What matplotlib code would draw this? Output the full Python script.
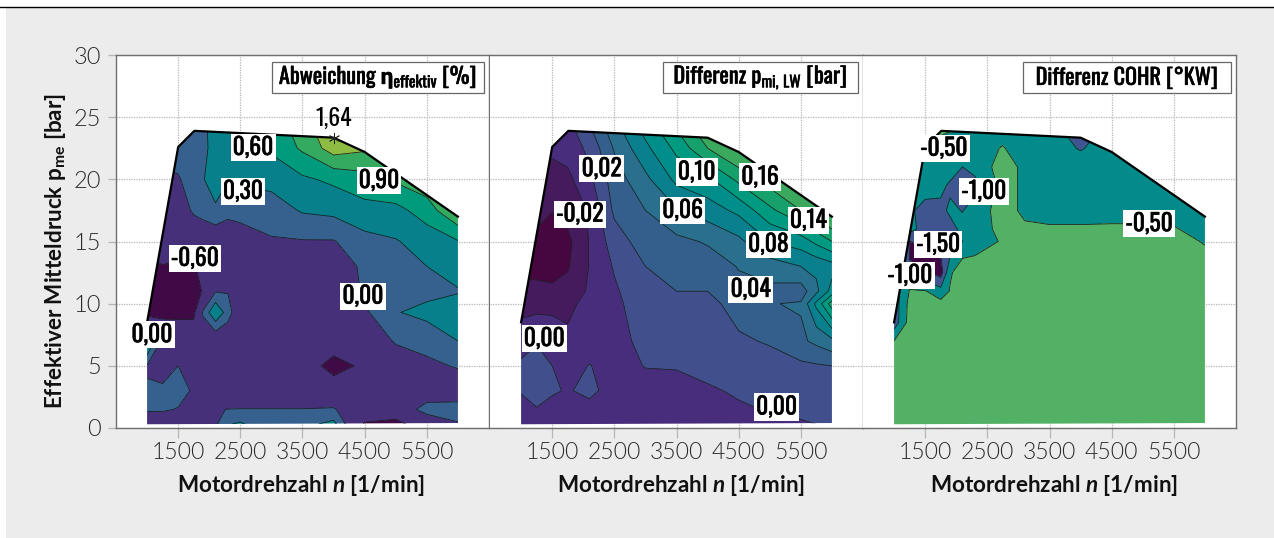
import matplotlib
matplotlib.use('Agg')
import matplotlib.pyplot as plt
import matplotlib.patheffects as pe
import numpy as np
from matplotlib.patches import Polygon, Rectangle

W, H = 1274, 538
narrow = ['Oswald', 'Roboto', 'DejaVu Sans']
plain = ['Lato', 'DejaVu Sans']

plt.rcParams['mathtext.fontset'] = 'custom'
plt.rcParams['mathtext.rm'] = 'Oswald:medium'
plt.rcParams['mathtext.it'] = 'Lato:italic:bold'
plt.rcParams['mathtext.bf'] = 'Lato:bold'
plt.rcParams['mathtext.cal'] = 'Roboto:bold'
plt.rcParams['mathtext.fallback'] = 'stixsans'

# Kennfeld-Grenze
edge_n = [1000, 1000, 1500, 1760, 4000, 4500, 6000, 6000]
edge_p = [0.3, 8.5, 22.6, 23.9, 23.35, 22.2, 17.0, 0.4]

# Panel 1: Abweichung Wirkungsgrad
n1 = [1000, 1250, 1500, 1750, 1900, 2100, 2300, 2500, 3000, 3500, 4000, 4500, 5000, 5500, 6000]
p1 = [0.3, 1.5, 3, 5, 7, 9.3, 11, 13, 15, 17.5, 20, 22.5, 24.5]
z1 = [
    [-.30, -.30, -.30, -.30, -.30, -.05, .28, .35, .05, .20, .40, -.65, -.75, -.30, -.02],
    [.05, .05, -.02, -.25, -.25, -.02, .005, .01, .01, .01, .03, -.30, -.30, .15, .10],
    [.02, .12, .15, -.05, -.28, -.30, -.30, -.30, -.30, -.30, -.30, -.30, -.30, -.25, -.15],
    [-.02, -.30, .00, -.25, -.30, -.30, -.30, -.30, -.30, -.30, -.80, -.50, -.25, -.05, .02],
    [.70, -.10, -.30, -.30, -.30, -.30, -.30, -.30, -.30, -.30, -.30, -.30, .04, .08, .30],
    [-.80, -.75, -.70, -.70, .05, .58, .15, -.30, -.30, -.30, -.30, -.05, .28, .40, .45],
    [-.80, -.80, -.85, -.85, -.55, -.02, -.02, -.30, -.30, -.30, -.30, .05, .12, .20, .28],
    [-.80, -.62, -.70, -.65, -.45, -.25, -.25, -.25, -.30, -.30, -.30, .10, .15, .30, .42],
    [-.30, -.30, -.30, -.30, -.28, -.25, -.20, -.15, -.03, -.02, -.02, .20, .28, .42, .58],
    [-.30, -.30, -.20, .05, .12, .22, .08, .10, .15, .33, .38, .50, .50, .75, 1.20],
    [-.10, -.10, -.03, .15, .27, .55, .32, .35, .40, .55, .66, .78, .95, 1.10, 1.40],
    [.15, .15, .15, .20, .20, .45, .50, .55, .65, .95, 1.35, 1.25, 1.30, 1.30, 1.40],
    [.15, .15, .15, .20, .25, .40, .60, .70, .80, 1.00, 1.70, 1.60, 1.50, 1.40, 1.40],
]
levels1 = [-0.9, -0.6, 0, 0.3, 0.6, 0.9, 1.2, 1.8]
colors1 = ['#3f0a45', '#46307a', '#36608d', '#07808c', '#009a7c', '#33aa5f', '#8cbc42']

# Panel 2: Differenz Ladungswechsel
n2 = [1000, 1250, 1500, 1750, 2100, 2500, 3000, 3500, 4000, 4500, 5000, 5500, 5750, 6000]
p2 = [0.3, 1.5, 3, 5, 7, 10, 11, 13, 15, 17.5, 20, 22.5, 24.5]
z2 = [
    [-.010, -.010, -.010, -.010, -.010, -.010, -.010, -.010, -.008, -.008, -.005, -.002, .000, .001],
    [-.010, -.001, -.008, -.010, -.008, -.010, -.010, -.008, -.005, -.002, .001, .004, .005, .006],
    [.002, .008, .003, -.002, .006, -.010, -.010, -.005, -.002, .002, .008, .010, .011, .012],
    [.002, .010, .000, -.010, .001, -.010, .001, .001, .005, .010, .012, .016, .018, .020],
    [-.005, -.002, -.005, -.015, -.012, -.010, .008, .008, .010, .017, .022, .036, .045, .055],
    [-.030, -.027, -.027, -.026, -.012, -.005, .012, .013, .014, .028, .039, .042, .085, .130],
    [-.035, -.035, -.035, -.033, -.017, -.003, .015, .020, .020, .035, .035, .030, .055, .088],
    [-.045, -.046, -.050, -.042, -.019, .002, .020, .028, .030, .041, .050, .060, .065, .072],
    [-.045, -.048, -.055, -.045, -.019, .010, .030, .035, .042, .055, .080, .090, .105, .120],
    [-.030, -.030, -.039, -.032, -.018, .024, .040, .058, .070, .085, .115, .140, .155, .170],
    [-.030, -.025, -.030, -.025, -.005, .030, .055, .085, .095, .125, .150, .170, .180, .180],
    [-.020, -.015, -.015, -.012, .005, .042, .075, .105, .140, .165, .180, .180, .180, .180],
    [-.010, -.010, -.010, -.005, .020, .055, .090, .125, .160, .180, .180, .180, .180, .180],
]
levels2 = [-0.06, -0.04, -0.02, 0, 0.02, 0.04, 0.06, 0.08, 0.10, 0.12, 0.14, 0.16, 0.18]
colors2 = ['#46063f', '#451b5e', '#472d7b', '#414f8c', '#345f8d', '#2a708e', '#0a7f8e',
           '#008e8a', '#009a80', '#15a06c', '#3aa85d', '#60b352']

# Panel 3: Differenz COHR
n3 = [1000, 1250, 1500, 1750, 1900, 2100, 2300, 2750, 3100, 3500, 4000, 4500, 5000, 5500, 6000]
p3 = [0.3, 5, 7, 8.5, 10, 11, 12.5, 13.5, 15, 16, 17.5, 19.5, 21, 22.5, 24.5]
z3 = [
    [-.25, -.25, -.25, -.25, -.25, -.25, -.25, -.25, -.25, -.25, -.25, -.25, -.25, -.25, -.25],
    [-.25, -.25, -.25, -.25, -.25, -.25, -.25, -.25, -.25, -.25, -.25, -.25, -.25, -.25, -.25],
    [-.50, -.25, -.25, -.25, -.25, -.25, -.25, -.25, -.25, -.25, -.25, -.25, -.25, -.25, -.25],
    [-1.3, -.30, -.25, -.25, -.25, -.25, -.25, -.25, -.25, -.25, -.25, -.25, -.25, -.25, -.25],
    [-1.3, -.35, -.30, -.35, -.28, -.25, -.25, -.25, -.25, -.25, -.25, -.25, -.25, -.25, -.25],
    [-1.3, -.47, -.47, -.80, -.47, -.27, -.25, -.25, -.25, -.25, -.25, -.25, -.25, -.25, -.25],
    [-1.3, -.80, -1.4, -1.75, -.55, -.30, -.25, -.25, -.25, -.25, -.25, -.25, -.25, -.25, -.25],
    [-1.0, -1.5, -1.7, -1.55, -.95, -.45, -.42, -.30, -.25, -.25, -.25, -.25, -.25, -.25, -.30],
    [-1.0, -1.52, -1.3, -1.25, -1.25, -1.0, -.75, -.45, -.25, -.25, -.25, -.25, -.25, -.25, -.55],
    [-.80, -.80, -1.25, -1.25, -1.2, -.85, -.75, -.35, -.42, -.42, -.42, -.40, -.40, -.45, -.75],
    [-.80, -.90, -1.2, -1.15, -.90, -1.02, -.75, -.30, -.60, -.75, -.75, -.75, -.75, -.75, -.75],
    [-.80, -.80, -.75, -.85, -1.1, -1.6, -1.2, -.30, -.60, -.75, -.75, -.75, -.75, -.75, -.75],
    [-.80, -.75, -.75, -.70, -.70, -1.0, -.80, -.30, -.60, -.75, -.75, -.75, -.75, -.75, -.75],
    [-.75, -.75, -.75, -.70, -.70, -.75, -.70, -.47, -.75, -.75, -1.04, -.75, -.75, -.75, -.75],
    [-.75, -.60, -.45, -.30, -.40, -.60, -.75, -.75, -.75, -.75, -1.7, -.75, -.75, -.75, -.75],
]
levels3 = [-2.0, -1.5, -1.0, -0.5, 0.0]
colors3 = ['#3f0845', '#3f5590', '#038a8a', '#52b165']

# Beschriftungen im Feld
labels1 = [('0,60', 2704, 22.56), ('0,30', 2543, 19.03), ('0,90', 4730, 19.9),
           ('-0,60', 1771, 13.64), ('0,00', 4473, 10.6), ('0,00', 1079, 7.5)]
labels2 = [('0,02', 2297, 20.85), ('-0,02', 1948, 17.2), ('0,10', 3824, 20.58),
           ('0,06', 3599, 17.5), ('0,16', 4843, 20.18), ('0,14', 5620, 16.7),
           ('0,08', 4977, 14.77), ('0,04', 4693, 11.15), ('0,00', 1373, 7.19),
           ('0,00', 5111, 1.69)]
labels3 = [('-0,50', 1803, 22.5), ('-1,00', 2446, 19.03), ('-1,50', 1711, 14.77),
           ('-1,00', 1256, 12.27), ('-0,50', 5105, 16.43)]

titles = [r'Abweichung $\mathcal{η}_{\mathregular{effektiv}}$ [%]',
          r'Differenz $\mathregular{p_{mi,\,LW}}$ [bar]',
          'Differenz COHR [°KW]']
title_boxes = [(272, 62, 212, 31), (663, 62, 195, 31), (1023, 62, 208, 31)]
lefts = [116, 490, 863]
xlabel_x = [0.495, 0.512, 0.511]
fat = [pe.withStroke(linewidth=0.4, foreground='black')]

fig = plt.figure(figsize=(W / 100, H / 100), dpi=100, facecolor='white')

# grauer Hintergrund und Linie oben
fig.add_artist(Rectangle((6 / W, 0), 1 - 6 / W, 1 - 7 / H, transform=fig.transFigure,
                         facecolor='#ececec', edgecolor='none', zorder=-5))
fig.add_artist(plt.Line2D([0, 1], [1 - 6.5 / H] * 2, transform=fig.transFigure,
                          color='black', lw=1.0, zorder=-4))

panels = [(n1, p1, z1, levels1, colors1, labels1),
          (n2, p2, z2, levels2, colors2, labels2),
          (n3, p3, z3, levels3, colors3, labels3)]

for i, (n, p, z, lev, cols, labs) in enumerate(panels):
    ax = fig.add_axes([lefts[i] / W, 1 - 428 / H, 373 / W, 373 / H])
    ax.set_xlim(500, 6500)
    ax.set_ylim(0, 30)
    ax.set_facecolor('white')
    ax.grid(True, color='#b5b5b5', linestyle=(0, (1, 1)), linewidth=0.9)
    ax.set_axisbelow(True)

    outline = Polygon(list(zip(edge_n, edge_p)), closed=True, transform=ax.transData,
                      facecolor='none', edgecolor='none')
    ax.add_patch(outline)
    cf = ax.contourf(n, p, np.array(z), levels=lev, colors=cols, zorder=2)
    cl = ax.contour(n, p, np.array(z), levels=lev[1:-1], colors='#1a1a1a', linewidths=0.55,
                    linestyles='solid', zorder=3)
    cf.set_clip_path(outline)
    cl.set_clip_path(outline)
    ax.plot(edge_n[1:7], edge_p[1:7], color='black', lw=1.6, zorder=4, solid_joinstyle='round')

    for txt, x, y in labs:
        ax.text(x, y, txt, ha='center', va='center', family=narrow, fontsize=17, color='black',
                zorder=6, path_effects=fat,
                bbox=dict(facecolor='white', edgecolor='none', pad=1.5))

    for s in ax.spines.values():
        s.set_color('#6e6e6e')
        s.set_linewidth(1.0)
    ax.spines['left'].set_visible(i == 0)
    ax.set_xticks([1500, 2500, 3500, 4500, 5500])
    ax.set_yticks(range(0, 31, 5))
    ax.tick_params(axis='x', length=7, color='#b5b5b5', width=0.9, labelsize=16.5,
                   labelcolor='#2a2a2a', pad=3)
    ax.tick_params(axis='y', length=6 if i == 0 else 0, color='#b5b5b5', width=0.9, labelsize=17,
                   labelcolor='#2a2a2a', pad=5, labelleft=(i == 0))
    for t in ax.get_xticklabels() + ax.get_yticklabels():
        t.set_family(plain)
        t.set_weight(300)

    ax.set_xlabel(r'Motordrehzahl $\mathit{n}$ [1/min]', family=plain, weight='bold',
                  fontsize=16.2, labelpad=7, color='#111111', x=xlabel_x[i])

    # Titelkasten
    bx, by, bw, bh = title_boxes[i]
    fig.add_artist(Rectangle((bx / W, 1 - (by + bh) / H), bw / W, bh / H, transform=fig.transFigure,
                             facecolor='white', edgecolor='#666666', lw=0.9, zorder=7))
    fig.text((bx + bw / 2) / W, 1 - (by + bh / 2) / H, titles[i], ha='center', va='center',
             family=narrow, fontsize=16, zorder=8, path_effects=fat)

# Stern am Maximum
ax0 = fig.axes[0]
ax0.plot([4000], [23.35], marker=(6, 2, 0), color='#222222', ms=8, mew=0.6, zorder=5)
ax0.text(4007, 24.9, '1,64', ha='center', va='center', family=narrow, fontsize=17, zorder=6)

ax0.set_ylabel(r'Effektiver Mitteldruck $\mathbf{p_{me}}$ [bar]', family=plain, weight='bold',
               fontsize=16.2, color='#111111')
ax0.yaxis.set_label_coords(-0.13, 0.475)

fig.savefig('out.png', dpi=100)
